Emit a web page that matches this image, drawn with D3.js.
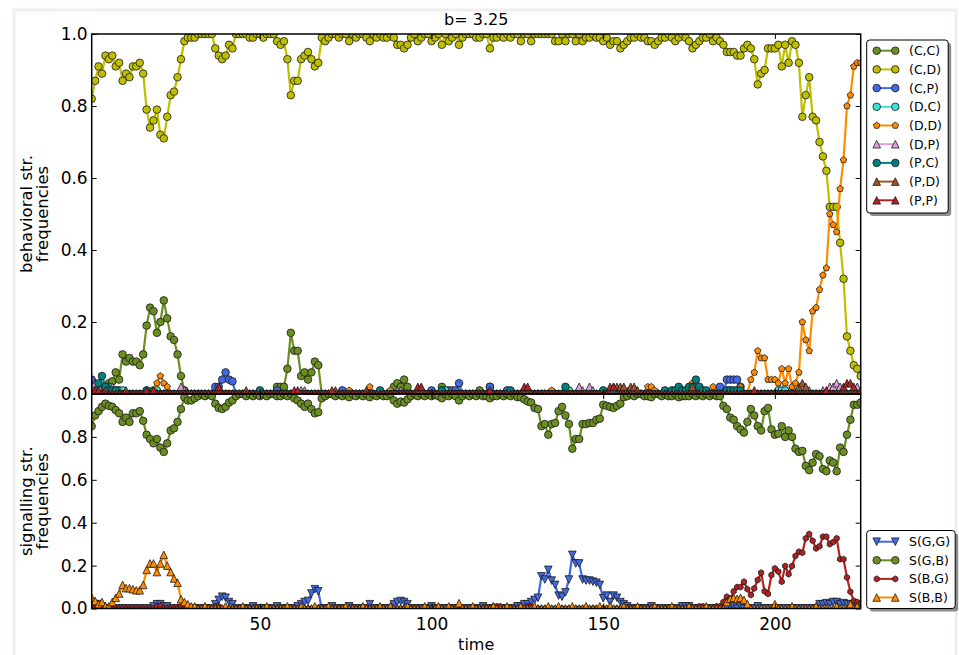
<!DOCTYPE html>
<html><head><meta charset="utf-8">
<script src="https://cdn.jsdelivr.net/npm/d3@7"></script>
<style>
body{margin:0;background:#fff;}
svg{display:block;font-family:"DejaVu Sans",sans-serif;}
</style></head>
<body><svg id="chart" width="959" height="655"></svg>
<script>
// ---------------- DATA ----------------
const title = "b= 3.25";
const time = d3.range(1, 226);
const xTicks = [50, 100, 150, 200];
const yTicksTop = [0, 0.2, 0.4, 0.6, 0.8, 1.0];
const yTicksBottom = [0, 0.2, 0.4, 0.6, 0.8];

const CC = [
0,0,.01,.01,.02, .03,.035,.06,.04,.11, .09,.10,.09,.09,.08, .11,.19,.24,.23,.17, .20,.26,.21,.16,.15,
.11,.05,.01,0,0, 0,0,0,0,0, 0,0,0,0,0, 0,0,0,0,0, 0,0,0,0,0,
0,0,0,0,.02, .02,.02,.07,.17,.12, .12,.05,.06,.04,.06, .09,.08,0,0,0, 0,0,0,0,0,
0,0,0,0,0, 0,0,0,0,0, 0,0,0,.02,.03, .02,.04,.02,0,0, 0,0,0,0,0,
0,0,.02,0,0, 0,0,0,0,0, 0,0,0,.01,0, 0,.02,0,0,0, 0,0,0,0,0,
0,0,0,0,0, 0,0,0,0,0, 0,0,0,0,0, 0,0,0,0,0, 0,0,0,0,0,
0,0,0,0,0, 0,0,0,0,0, 0,0,0,0,0, 0,0,0,0,0, 0,0,0,0,0,
0,0,0,0,0, 0,0,0,0,0, 0,0,0,0,0, 0,0,0,0,0, 0,0,0,0,0,
0,0,0,0,0, 0,0,0,0,0, 0,0,0,0,0, 0,0,0,0,0, 0,0,0,0,0];
const CD = [
.82,.87,.91,.89,.94, .93,.94,.91,.92,.87, .89,.88,.91,.91,.92, .89,.79,.74,.76,.79, .72,.71,.77,.83,.84,
.88,.93,.98,.99,.99, .99,1,1,1,1, 1,.96,.94,.93,.94, .97,.96,1,1,1, 1,.99,.99,1,1,
.99,1,1,1,.98, .97,.98,.93,.83,.87, .87,.93,.94,.95,.93, .91,.92,.99,.98,.99, 1,1,.99,1,1,
.98,1,.99,1,1, .99,.98,1,.99,1, .99,.99,1,.99,.97, .97,.96,.97,.99,1, .98,.99,1,1,.98,
.99,1,.97,1,.98, .99,1,.97,.99,1, 1,1,.99,.99,1, 1,.96,.99,.99,1, .99,1,.99,1,1,
.98,1,1,.98,1, 1,1,1,1,1, .98,.98,1,.98,1, 1,.98,1,.98,.99, .99,1,.99,.99,.98,
.99,.97,.98,.98,.96, .97,.98,.99,.99,1, .99,.99,.98,.98,.97, .98,.99,.99,1,.99, .98,.99,1,.99,.98,
.96,.97,.98,.99,.99, 1,.98,.99,.98,.97, .95,.95,.95,.94,.94, .96,.97,.96,.93,.86, .89,.90,.96,.96,.96,
.97,.91,.97,.92,.98, .97,.92,.77,.83,.88, .77,.76,.70,.66,.62, .52,.52,.52,.42,.32, .16,.12,.08,.07,.05];
const CP = [
.04,.02,0,0,0, 0,0,0,0,0, 0,0,0,0,0, 0,0,0,0,0, 0,0,0,0,0,
0,0,0,0,0, 0,0,0,0,0, 0,.02,.02,.04,.06, .04,.035,0,0,0, 0,0,0,0,0,
0,0,0,0,.01, 0,0,0,0,0, 0,0,0,0,0, 0,0,0,0,0, 0,0,0,.01,0,
0,0,0,0,0, 0,0,0,0,0, 0,0,0,0,0, 0,0,0,0,0, 0,0,0,0,.01,
0,0,0,.01,.01, .01,.01,.03,0,0, 0,0,0,0,0, 0,.02,0,0,0, 0,.01,0,0,0,
0,0,0,0,0, 0,0,0,0,0, 0,0,0,0,0, 0,0,0,0,0, 0,0,0,0,0,
0,0,0,0,0, 0,0,0,0,0, 0,0,0,0,0, 0,0,0,0,0, 0,0,0,0,0,
0,0,0,0,0, 0,0,0,.02,0, .04,.04,.04,.04,.02, 0,0,0,0,0, 0,0,0,0,0,
0,0,0,0,0, 0,0,0,0,0, 0,0,0,0,0, 0,0,0,0,0, 0,0,0,0,0];
const DC = [
0,0,0,0,.01, .02,.01,.01,.01,.01, 0,0,0,0,0, 0,0,0,.01,.01, 0,0,0,0,0,
0,0,0,0,0, 0,0,0,0,0, 0,0,0,0,0, 0,0,0,0,0, 0,0,0,0,0,
0,0,0,0,0, 0,0,0,0,0, 0,0,0,0,0, 0,0,0,0,0, 0,0,0,0,0,
0,0,0,0,0, 0,0,0,0,0, 0,0,0,0,0, 0,0,0,0,0, 0,0,0,0,0,
0,0,.01,.01,0, 0,0,0,0,0, 0,0,0,0,0, 0,0,0,0,0, 0,0,0,0,0,
0,0,0,0,0, 0,0,0,0,0, 0,0,0,0,.01, 0,0,0,0,0, 0,0,0,0,0,
0,0,0,0,0, 0,0,0,0,0, 0,0,0,0,0, 0,0,0,0,0, 0,0,0,0,0,
0,0,0,0,0, 0,0,0,0,0, 0,.01,0,0,0, 0,0,0,0,0, 0,0,0,0,0,
.01,.01,.01,0,.01, 0,0,0,0,0, 0,0,0,0,0, 0,0,0,0,0, 0,0,0,0,0];
const DD = [
0,0,0,0,0, 0,0,0,0,0, 0,0,0,0,0, 0,0,0,.01,.03, .05,.03,.02,0,0,
0,0,0,0,0, 0,0,0,0,0, 0,0,0,0,0, 0,0,0,0,0, 0,0,0,0,0,
0,0,0,0,0, 0,0,0,0,0, 0,0,0,0,0, 0,0,0,0,0, 0,0,0,0,0,
.01,0,0,0,0, 0,.02,0,0,0, 0,0,.01,0,0, 0,0,0,0,0, 0,0,0,0,0,
0,0,0,0,0, 0,0,0,0,0, 0,0,0,0,0, 0,0,0,0,0, 0,0,0,0,0,
0,0,0,0,0, 0,0,0,0,.01, 0,0,0,0,0, 0,0,0,0,0, 0,0,0,0,0,
0,0,0,0,0, 0,0,0,0,0, 0,0,.02,.02,.01, 0,0,0,0,0, 0,0,0,0,0,
.03,0,0,0,0, 0,.02,0,0,0, 0,0,0,0,.02, 0,0,.04,.06,.12, .10,.10,.04,.04,.04,
.03,.07,.03,.07,.02, .03,.06,.20,.15,.12, .23,.24,.29,.33,.35, .50,.47,.45,.57,.65, .80,.83,.91,.92,.92];
const DP = [
.02,.03,.02,0,0, .02,.02,.01,.01,0, 0,0,0,0,0, 0,0,0,0,0, 0,0,0,0,0,
0,.02,.01,0,0, 0,0,0,0,0, 0,0,.02,0,0, 0,0,0,0,0, 0,0,0,0,0,
0,0,0,0,0, 0,0,0,0,0, 0,.01,.01,0,0, 0,0,0,0,0, 0,0,0,0,0,
0,0,0,0,0, 0,0,0,0,0, 0,0,0,0,.01, .01,0,0,0,0, 0,0,0,0,0,
0,0,0,0,0, 0,0,0,0,0, 0,0,0,0,0, 0,0,0,0,0, 0,0,0,0,0,
0,0,0,0,0, 0,0,0,0,0, 0,0,0,0,0, 0,0,.02,.01,0, .02,.01,0,0,0,
0,0,0,0,0, 0,0,0,0,0, 0,0,0,0,0, 0,0,0,0,0, 0,0,0,0,0,
0,0,0,0,0, 0,0,0,0,0, 0,0,0,0,0, 0,0,0,0,0, 0,0,0,0,0,
0,0,0,0,0, 0,0,0,0,.01, 0,0,0,.01,0, .02,.02,.03,.02,.01, 0,0,0,.02,0];
const PC = [
0,0,.03,.05,.02, .01,.01,.01,0,0, 0,0,0,0,0, 0,.01,0,0,0, 0,0,0,0,0,
0,0,0,0,0, 0,0,0,0,0, 0,0,0,0,0, 0,0,0,0,0, 0,0,0,0,.01,
0,0,0,0,0, 0,0,0,0,0, 0,0,0,0,0, 0,0,0,0,0, 0,0,0,0,0,
0,0,0,0,0, 0,0,0,0,.01, 0,0,0,0,0, 0,0,0,0,0, 0,0,0,0,0,
0,0,.01,0,0, 0,0,0,0,0, 0,0,0,0,0, 0,0,0,0,0, 0,0,.01,0,0,
0,0,0,0,0, 0,0,0,0,0, 0,0,0,.02,0, 0,0,0,0,0, 0,0,0,0,.01,
0,0,0,0,0, 0,0,.01,.01,0, 0,0,0,0,0, 0,0,.01,0,.01, .01,.02,.01,.01,.02,
.02,.04,.02,.01,.01, 0,0,0,0,0, .01,.01,.01,.01,.01, 0,0,0,0,0, 0,0,0,0,0,
0,0,0,0,0, 0,0,0,0,0, 0,0,0,0,0, 0,0,0,0,0, 0,0,0,0,0];
const PD = [
0,0,0,0,.01, 0,0,0,0,0, .01,0,0,0,0, 0,0,0,0,0, 0,0,0,0,0,
0,0,0,0,0, 0,0,0,0,0, 0,0,0,0,0, 0,0,0,0,0, .01,0,0,0,0,
0,0,0,0,0, 0,0,0,0,0, 0,0,0,0,0, 0,0,0,0,0, 0,.01,0,0,0,
0,0,0,0,0, .01,0,0,0,0, 0,0,0,0,0, 0,0,0,0,0, 0,0,0,0,0,
0,0,0,0,0, 0,0,0,0,0, 0,0,0,0,0, 0,0,0,0,0, 0,0,0,0,0,
0,0,0,0,0, 0,0,0,0,0, 0,0,0,0,0, 0,0,0,0,0, 0,0,0,0,0,
0,0,.02,.02,.02, .02,0,.02,.02,.01, 0,0,0,0,0, 0,0,0,0,0, 0,0,0,0,0,
.02,0,0,0,0, 0,0,0,0,0, 0,0,0,0,0, 0,0,0,0,0, 0,0,0,0,0,
0,0,0,0,0, 0,.02,.03,.02,0, 0,0,0,0,0, 0,0,0,0,0, 0,0,0,0,0];
const PP = [
.01,.01,.01,0,0, 0,0,0,0,0, 0,0,0,0,0, 0,.01,0,.01,0, 0,0,0,0,0,
0,0,0,0,0, 0,0,0,0,0, 0,0,.02,0,0, 0,0,0,0,0, 0,0,0,0,0,
0,0,0,0,0, 0,0,0,0,.01, .01,0,0,0,0, 0,0,0,0,0, .01,0,0,0,0,
0,0,0,0,0, 0,0,0,0,0, 0,0,0,0,0, 0,0,0,0,0, .02,.02,0,0,0,
0,0,0,0,0, 0,0,0,0,0, 0,0,0,0,0, 0,.01,0,0,0, 0,0,0,0,0,
0,.02,.02,0,0, 0,0,0,0,0, 0,0,0,0,0, 0,0,0,0,0, 0,0,0,0,0,
0,.02,.02,0,0, 0,0,0,0,0, 0,0,0,0,0, 0,0,0,0,0, 0,0,0,0,0,
0,0,0,0,0, 0,0,0,0,0, 0,0,0,0,0, 0,0,0,.01,0, 0,0,0,0,0,
0,0,0,0,0, 0,0,0,0,0, 0,0,0,0,.01, 0,0,0,0,.02, .03,.03,.02,0,.01];

const SGG = [
.03,.02,.02,.01,0, 0,0,0,0,0, 0,0,0,0,0, 0,0,0,.01,.02, .02,.01,.01,0,0,
0,0,0,0,0, 0,0,0,0,0, 0,.02,.04,.055,.05, .03,.02,0,0,0, 0,0,.01,0,0,
0,0,0,0,.01, 0,0,0,0,0, .01,.02,.03,.035,.07, .09,.08,0,0,0, .01,0,0,0,0,
.01,0,0,0,0, 0,.02,0,0,0, 0,0,0,.02,.03, .035,.03,.02,0,0, 0,0,0,0,.01,
0,0,0,0,0, 0,0,0,0,0, 0,0,0,0,.01, 0,0,0,0,0, 0,0,0,0,.01,
.01,.02,.02,.03,.04, .05,.15,.135,.18,.13, .11,.06,.055,.075,.135, .25,.21,.21,.135,.13, .13,.125,.12,.11,.048,
.06,.03,.06,.05,.03, .02,.01,0,0,0, 0,0,0,.01,0, 0,0,0,0,0, 0,0,.01,.01,.01,
0,0,0,0,0, 0,0,0,0,0, 0,.01,.01,0,.01, 0,0,0,0,.01, 0,0,0,0,0,
0,0,0,0,0, 0,0,0,0,0, 0,0,.02,.02,.025, .02,.03,.03,.02,.025, .02,.02,.015,.01,0];
const SGB = [
.85,.90,.92,.94,.955, .945,.94,.925,.91,.87, .89,.87,.91,.91,.92, .875,.81,.79,.77,.79, .75,.73,.77,.83,.84,
.87,.93,.985,.97,.97, .98,.99,1,.99,1, .99,.955,.935,.93,.94, .96,.97,.99,1,1, .99,1,.99,1,.99,
1,.99,1,1,.99, .99,1,.99,1,.98, .97,.955,.94,.955,.93, .91,.915,.98,.99,1, 1,.99,1,.99,1,
.985,1,.99,1,.99, 1,.985,1,.99,1, .99,.99,1,.97,.955, .965,.96,.975,.99,1, .99,1,.99,1,.99,
1,.99,.98,1,.99, 1,.99,.97,.99,1, .99,1,.99,1,.99, .99,.98,.99,.99,1, .99,1,.99,1,.985,
.985,.975,.965,.96,.935, .93,.85,.86,.81,.86, .865,.92,.94,.90,.86, .745,.79,.79,.86,.86, .865,.865,.88,.885,.95,
.945,.94,.935,.945,.955, .985,.99,1,.99,1, 1,.99,.99,.985,1, 1,.99,1,.99,.99, 1,.985,.99,.99,.99,
1,.99,1,.99,1, .99,1,.99,.99,.945, .93,.89,.88,.85,.835, .82,.87,.93,.90,.85, .83,.92,.935,.835,.81,
.815,.85,.80,.83,.80, .745,.73,.735,.665,.645, .68,.72,.71,.65,.64, .69,.68,.64,.75,.73, .81,.88,.95,.95,.96];
const SBG = [
.01,.01,0,0,0, 0,0,0,0,0, 0,0,0,0,0, 0,0,0,0,.01, .01,0,0,0,0,
0,.01,0,0,0, 0,0,0,0,0, 0,.01,.01,0,0, 0,0,0,0,0, 0,0,0,0,0,
0,0,0,0,0, 0,0,0,0,0, 0,0,0,0,0, 0,0,0,0,0, 0,0,0,0,0,
0,0,0,0,0, 0,0,0,0,0, 0,0,0,0,0, 0,0,0,0,0, 0,0,0,0,0,
0,0,0,0,0, 0,0,0,0,0, 0,0,0,0,0, 0,0,.01,.01,.01, 0,0,0,0,0,
0,0,.01,.01,0, 0,0,0,0,0, 0,0,0,0,0, 0,0,0,0,0, 0,0,0,0,0,
0,0,0,0,0, 0,0,0,0,0, 0,0,0,0,0, 0,0,0,0,0, 0,0,0,0,0,
0,0,.01,.01,0, 0,0,.01,.01,.03, .055,.045,.08,.10,.10, .125,.09,.063,.094,.133, .167,.08,.068,.156,.187,
.172,.125,.198,.16,.198, .245,.265,.26,.327,.347, .316,.28,.29,.335,.335, .30,.31,.327,.23,.23, .145,.078,.036,.03,.025];
const SBB = [
.05,.035,.02,.03,.01, .01,.03,.05,.07,.11, .095,.095,.09,.085,.085, .11,.18,.21,.21,.17, .21,.25,.20,.17,.14,
.12,.043,.03,.02,.01, .01,0,0,.01,0, 0,0,0,0,.01, 0,0,0,0,.01, 0,0,0,0,0,
0,.01,0,0,0, 0,0,.01,0,0, 0,.01,0,0,0, .01,0,0,0,.01, 0,0,0,0,.01,
0,0,0,0,.01, 0,0,0,0,.01, 0,0,.01,0,0, 0,0,.01,0,0, 0,0,.01,0,0,
0,.01,0,0,.01, 0,0,.025,0,0, 0,.01,0,0,0, 0,0,.01,0,0, 0,.01,0,0,0,
.01,0,0,0,.01, 0,0,0,.01,0, 0,.01,0,0,0, .01,0,0,0,.01, 0,0,0,.01,0,
0,.01,0,0,0, .01,0,0,0,.01, 0,0,0,0,.01, 0,0,0,0,.01, 0,0,0,0,.01,
0,0,0,0,.01, 0,0,0,0,0, .03,.045,.05,.045,.05, .04,.02,0,0,0, 0,0,0,0,.02,
0,0,0,0,.01, 0,0,0,0,0, 0,.01,0,0,0, 0,0,.01,0,0, 0,.02,0,.01,0];

const topSeries = [
  {label:"(C,C)", values:CC, color:"#6b8e23", marker:"o"},
  {label:"(C,D)", values:CD, color:"#bfbf00", marker:"o"},
  {label:"(C,P)", values:CP, color:"#4169e1", marker:"o"},
  {label:"(D,C)", values:DC, color:"#40e0d0", marker:"o"},
  {label:"(D,D)", values:DD, color:"#ff8c00", marker:"p"},
  {label:"(D,P)", values:DP, color:"#dda0dd", marker:"^"},
  {label:"(P,C)", values:PC, color:"#008080", marker:"o"},
  {label:"(P,D)", values:PD, color:"#a0522d", marker:"^"},
  {label:"(P,P)", values:PP, color:"#b22222", marker:"^"}
];
const bottomSeries = [
  {label:"S(G,G)", values:SGG, color:"#4169e1", marker:"v"},
  {label:"S(G,B)", values:SGB, color:"#6b8e23", marker:"o"},
  {label:"S(B,G)", values:SBG, color:"#b22222", marker:"h"},
  {label:"S(B,B)", values:SBB, color:"#ff8c00", marker:"^"}
];

// ---------------- DRAW ----------------
const svg = d3.select("#chart");
const L = 91.7, R = 860.7, T1 = 34, B1 = 394, T2 = 394, B2 = 608.5;

// faint figure frame
svg.append("rect").attr("x",14).attr("y",10).attr("width",942).attr("height",660)
  .attr("fill","none").attr("stroke","#f1eded").attr("stroke-width",3);

const x = d3.scaleLinear().domain([1,225]).range([L,R]);
const yTop = d3.scaleLinear().domain([0,1]).range([B1,T1]);
const yBot = d3.scaleLinear().domain([0,1]).range([B2,T2]);

function markerPath(type){
  const r = {o:3.8, p:3.4, h:3.0, "^":3.8, v:3.8}[type];
  if(type==="o") return d3.symbol(d3.symbolCircle, Math.PI*r*r)();
  if(type==="^") return `M0,${-r}L${r},${r}L${-r},${r}Z`;
  if(type==="v") return `M0,${r}L${r},${-r}L${-r},${-r}Z`;
  const n = type==="p" ? 5 : 6;
  const pts = d3.range(n).map(k=>{const a=-Math.PI/2+2*Math.PI*k/n; return [r*Math.cos(a), r*Math.sin(a)];});
  return "M"+pts.map(p=>p[0].toFixed(2)+","+p[1].toFixed(2)).join("L")+"Z";
}

function panel(id, series, y, top, bottom){
  svg.append("clipPath").attr("id",id).append("rect")
    .attr("x",L).attr("y",top).attr("width",R-L).attr("height",bottom-top);
  const g = svg.append("g").attr("clip-path",`url(#${id})`);
  const line = d3.line().x((d,i)=>x(time[i])).y(d=>y(d));
  series.forEach(s=>{
    const sg = g.append("g");
    sg.append("path").datum(s.values).attr("d",line)
      .attr("fill","none").attr("stroke",s.color).attr("stroke-width",2.2).attr("stroke-linejoin","round");
    const mp = markerPath(s.marker);
    sg.selectAll("path.m").data(s.values).join("path").attr("class","m")
      .attr("d",mp).attr("transform",(d,i)=>`translate(${x(time[i])},${y(d)})`)
      .attr("fill",s.color).attr("stroke","#1a1a1a").attr("stroke-width",0.8);
  });
}
panel("clipTop", topSeries, yTop, T1, B1);
panel("clipBot", bottomSeries, yBot, T2, B2);

// axes
function styleAxis(g){
  g.selectAll(".domain").remove();
  g.selectAll("line").attr("stroke","#000").attr("stroke-width",1);
  g.selectAll("text").attr("font-family","DejaVu Sans").attr("font-size",17).attr("fill","#000");
}
const fmt = d3.format(".1f");
svg.append("g").attr("transform",`translate(${L},0)`)
  .call(d3.axisLeft(yTop).tickValues(yTicksTop).tickFormat(fmt).tickSizeInner(-5).tickSizeOuter(0).tickPadding(4)).call(styleAxis);
svg.append("g").attr("transform",`translate(${R},0)`)
  .call(d3.axisRight(yTop).tickValues(yTicksTop).tickFormat("").tickSizeInner(-5).tickSizeOuter(0)).call(styleAxis);
svg.append("g").attr("transform",`translate(${L},0)`)
  .call(d3.axisLeft(yBot).tickValues(yTicksBottom).tickFormat(fmt).tickSizeInner(-5).tickSizeOuter(0).tickPadding(4)).call(styleAxis);
svg.append("g").attr("transform",`translate(${R},0)`)
  .call(d3.axisRight(yBot).tickValues(yTicksBottom).tickFormat("").tickSizeInner(-5).tickSizeOuter(0)).call(styleAxis);
svg.append("g").attr("transform",`translate(0,${T1})`)
  .call(d3.axisTop(x).tickValues(xTicks).tickFormat("").tickSizeInner(-5).tickSizeOuter(0)).call(styleAxis);
svg.append("g").attr("transform",`translate(0,${B1})`)
  .call(d3.axisBottom(x).tickValues(xTicks).tickFormat("").tickSizeInner(-5).tickSizeOuter(0)).call(styleAxis);
svg.append("g").attr("transform",`translate(0,${T2})`)
  .call(d3.axisTop(x).tickValues(xTicks).tickFormat("").tickSizeInner(-5).tickSizeOuter(0)).call(styleAxis);
svg.append("g").attr("transform",`translate(0,${B2})`)
  .call(d3.axisBottom(x).tickValues(xTicks).tickFormat(d3.format("d")).tickSizeInner(-5).tickSizeOuter(0).tickPadding(9)).call(styleAxis);

// spines
[[T1,B1],[T2,B2]].forEach(([t,b])=>{
  svg.append("rect").attr("x",L).attr("y",t).attr("width",R-L).attr("height",b-t)
    .attr("fill","none").attr("stroke","#000").attr("stroke-width",1.5);
});

// title & labels
svg.append("text").attr("x",(L+R)/2).attr("y",25).attr("text-anchor","middle")
  .attr("font-size",16).text(title);
svg.append("text").attr("x",(L+R)/2).attr("y",650).attr("text-anchor","middle")
  .attr("font-size",16).text("time");
function ylab(lines, cy){
  lines.forEach((t,i)=>{
    svg.append("text").attr("transform",`translate(${26+16*i},${cy}) rotate(-90)`)
      .attr("text-anchor","middle").attr("dominant-baseline","central")
      .attr("font-size",16.5).text(t);
  });
}
ylab(["behavioral str.","frequencies"], (T1+B1)/2);
ylab(["signalling str.","frequencies"], (T2+B2)/2);

// legends
function legend(series, x0, y0, w, h, rowY0, dy){
  svg.append("rect").attr("x",x0+3).attr("y",y0+3).attr("width",w).attr("height",h)
    .attr("rx",3).attr("fill","#8c8c8c");
  svg.append("rect").attr("x",x0).attr("y",y0).attr("width",w).attr("height",h)
    .attr("rx",3).attr("fill","#fff").attr("stroke","#000").attr("stroke-width",1);
  series.forEach((s,i)=>{
    const cy = rowY0 + i*dy;
    const g = svg.append("g");
    g.append("line").attr("x1",876.7).attr("x2",895.3).attr("y1",cy).attr("y2",cy)
      .attr("stroke",s.color).attr("stroke-width",2);
    [876.7,895.3].forEach(mx=>g.append("path").attr("d",markerPath(s.marker))
      .attr("transform",`translate(${mx},${cy})`).attr("fill",s.color)
      .attr("stroke","#1a1a1a").attr("stroke-width",0.8));
    g.append("text").attr("x",909).attr("y",cy).attr("dominant-baseline","central")
      .attr("font-size",12.5).text(s.label);
  });
}
legend(topSeries, 866.7, 40, 81.5, 173, 50.7, 18.7);
legend(bottomSeries, 866.7, 530.5, 88.5, 78, 541.7, 18.6);
</script></body></html>
